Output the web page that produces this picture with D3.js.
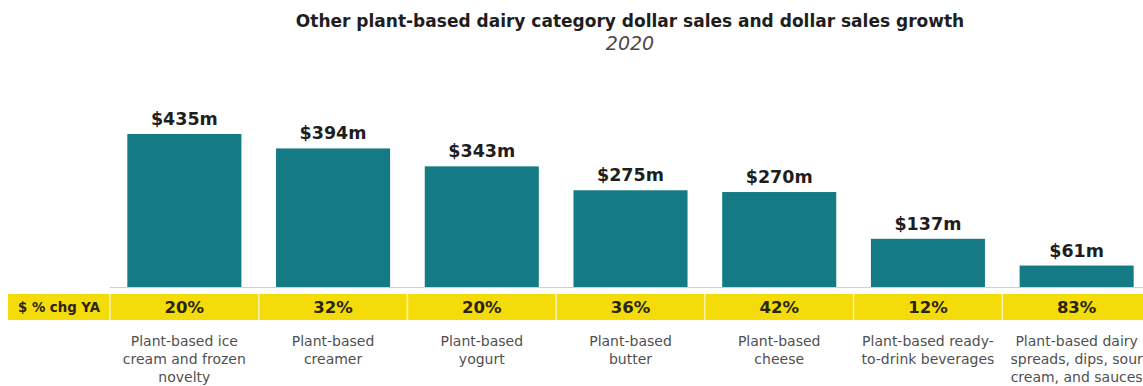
<!DOCTYPE html>
<html>
<head>
<meta charset="utf-8">
<script src="https://cdn.jsdelivr.net/npm/d3@7"></script>
<style>
  html, body { margin: 0; padding: 0; background: #ffffff; }
  svg { display: block; }
</style>
</head>
<body>
<svg id="chart" width="1143" height="386"></svg>
<script>
// Category names (each entry is a list of wrapped lines)
const categories = [
  ["Plant-based ice", "cream and frozen", "novelty"],
  ["Plant-based", "creamer"],
  ["Plant-based", "yogurt"],
  ["Plant-based", "butter"],
  ["Plant-based", "cheese"],
  ["Plant-based ready-", "to-drink beverages"],
  ["Plant-based dairy", "spreads, dips, sour", "cream, and sauces"]
];
// Dollar sales, $ millions
const sales = [435, 394, 343, 275, 270, 137, 61];
// Dollar sales % change vs. year ago
const growth = [20, 32, 20, 36, 42, 12, 83];
const rowLabel = "$ % chg YA";

const svg = d3.select("#chart");
const W = 1143;

const teal = "#147b85";
const yellow = "#f4dc0b";

const keys = categories.map((c, i) => i);

const x = d3.scaleBand()
  .domain(keys)
  .range([110, 1151])
  .paddingInner(0.233)
  .paddingOuter(0.1165);

const cell = d3.scaleBand()
  .domain(keys)
  .range([110, 1151])
  .padding(0);

const y = d3.scaleLinear()
  .domain([0, 435])
  .range([287, 134]);

// Title
svg.append("text")
  .attr("x", 630).attr("y", 27)
  .attr("text-anchor", "middle")
  .attr("font-family", "'DejaVu Sans', sans-serif")
  .attr("font-weight", 700)
  .attr("font-size", 17)
  .attr("fill", "#1e1e1e")
  .text("Other plant-based dairy category dollar sales and dollar sales growth");

svg.append("text")
  .attr("x", 630).attr("y", 50)
  .attr("text-anchor", "middle")
  .attr("font-family", "'DejaVu Sans', sans-serif")
  .attr("font-style", "italic")
  .attr("font-size", 19)
  .attr("fill", "#4a4a4a")
  .text("2020");

// Bars
svg.append("g").selectAll("rect")
  .data(sales)
  .join("rect")
  .attr("x", (d, i) => x(i))
  .attr("y", d => y(d))
  .attr("width", x.bandwidth())
  .attr("height", d => y(0) - y(d))
  .attr("fill", teal);

// Baseline
svg.append("line")
  .attr("x1", 110).attr("x2", W)
  .attr("y1", y(0) + 0.5).attr("y2", y(0) + 0.5)
  .attr("stroke", "#cfcfcf")
  .attr("stroke-width", 1);

// Value labels
svg.append("g").selectAll("text")
  .data(sales)
  .join("text")
  .attr("x", (d, i) => x(i) + x.bandwidth() / 2)
  .attr("y", d => y(d) - 9)
  .attr("text-anchor", "middle")
  .attr("font-family", "'DejaVu Sans', sans-serif")
  .attr("font-weight", 700)
  .attr("font-size", 17.5)
  .attr("fill", "#1e1e1e")
  .text(d => `$${d}m`);

// Growth row
const rowTop = 294, rowH = 26;
svg.append("rect")
  .attr("x", 8).attr("y", rowTop)
  .attr("width", W - 8).attr("height", rowH)
  .attr("fill", yellow);

svg.append("g").selectAll("line")
  .data(keys)
  .join("line")
  .attr("x1", d => cell(d)).attr("x2", d => cell(d))
  .attr("y1", rowTop).attr("y2", rowTop + rowH)
  .attr("stroke", "#fbf3b0")
  .attr("stroke-width", 1.5);

svg.append("text")
  .attr("x", 59).attr("y", rowTop + rowH / 2 + 4.5)
  .attr("text-anchor", "middle")
  .attr("font-family", "'DejaVu Sans', sans-serif")
  .attr("font-weight", 700)
  .attr("font-size", 13.3)
  .attr("fill", "#2a2410")
  .text(rowLabel);

svg.append("g").selectAll("text")
  .data(growth)
  .join("text")
  .attr("x", (d, i) => x(i) + x.bandwidth() / 2)
  .attr("y", rowTop + rowH / 2 + 6)
  .attr("text-anchor", "middle")
  .attr("font-family", "'DejaVu Sans', sans-serif")
  .attr("font-weight", 700)
  .attr("font-size", 16.5)
  .attr("fill", "#2a2410")
  .text(d => `${d}%`);

// Category labels
const labels = svg.append("g").selectAll("text")
  .data(categories)
  .join("text")
  .attr("text-anchor", "middle")
  .attr("font-family", "'DejaVu Sans', sans-serif")
  .attr("font-size", 14)
  .attr("fill", "#505050");

labels.each(function(lines, i) {
  d3.select(this).selectAll("tspan")
    .data(lines)
    .join("tspan")
    .attr("x", x(i) + x.bandwidth() / 2)
    .attr("y", (l, j) => 346 + j * 18)
    .text(l => l);
});
</script>
</body>
</html>
